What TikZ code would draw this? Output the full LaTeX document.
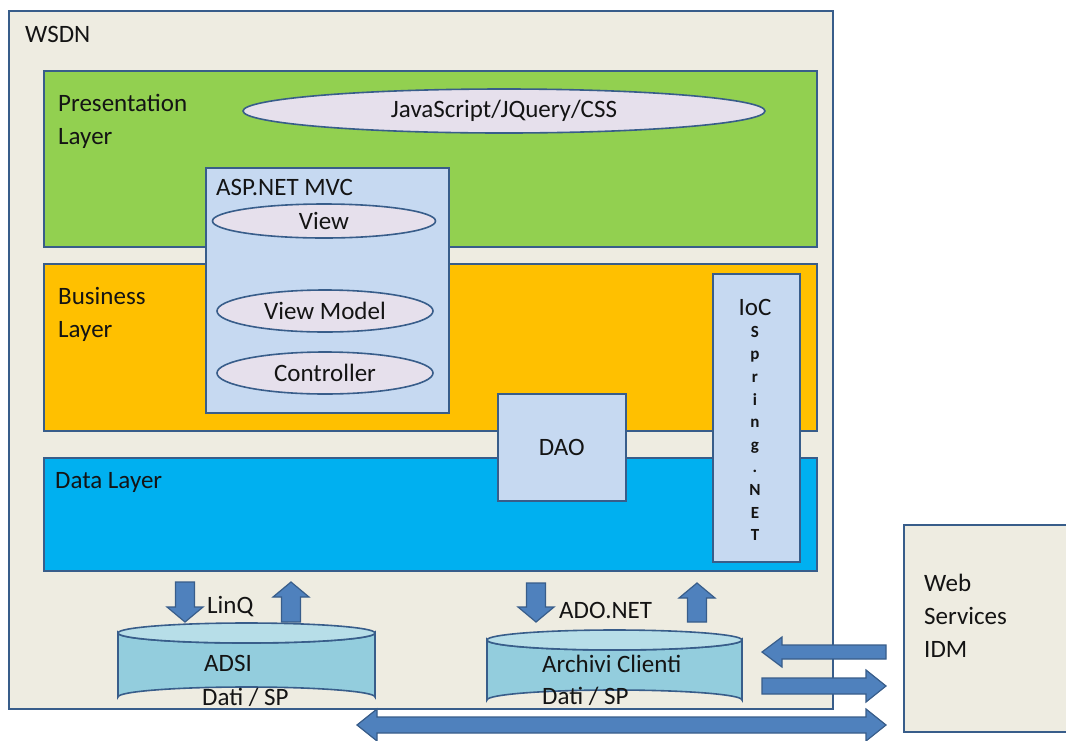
\documentclass[tikz,border=0pt]{standalone}
\usepackage{fontspec}
\setmainfont{Carlito}
\definecolor{outl}{HTML}{385D8A}
\definecolor{cream}{HTML}{EEECE1}
\definecolor{pgreen}{HTML}{92D050}
\definecolor{porange}{HTML}{FFC000}
\definecolor{pblue}{HTML}{00B0F0}
\definecolor{lblue}{HTML}{C6D9F1}
\definecolor{lav}{HTML}{E6E0EC}
\definecolor{cylbody}{HTML}{93CDDD}
\definecolor{cyltop}{HTML}{B7DEE8}
\definecolor{arrfill}{HTML}{4F81BD}
\definecolor{txt}{HTML}{141414}
\tikzset{
  box/.style={draw=outl, line width=1.6pt, anchor=north west, inner sep=0pt},
  ell/.style={draw=outl, line width=1.6pt, ellipse, fill=lav, inner sep=0pt, text=txt},
  lbl/.style={anchor=north west, inner sep=0pt, align=left, text=txt, font=\fontsize{25}{33}\selectfont},
  blk/.style={draw=outl, line width=1.2pt, fill=arrfill},
  txtb/.style={anchor=base west, inner sep=0pt, text=txt, font=\fontsize{25}{33}\selectfont},
}
\usetikzlibrary{shapes.geometric}
\newcommand\downarr[3]{\draw[blk] ({#1-9.5},#2) -- ({#1+9.5},#2) -- ({#1+9.5},{#3-15}) -- ({#1+18},{#3-15}) -- (#1,#3) -- ({#1-18},{#3-15}) -- ({#1-9.5},{#3-15}) -- cycle;}
\newcommand\uparr[3]{\draw[blk] ({#1-9.5},#2) -- ({#1+9.5},#2) -- ({#1+9.5},{#3+15}) -- ({#1+18},{#3+15}) -- (#1,#3) -- ({#1-18},{#3+15}) -- ({#1-9.5},{#3+15}) -- cycle;}
\begin{document}
\begin{tikzpicture}[x=1pt,y=-1pt]
\useasboundingbox (0,0) rectangle (1066,740);
\fill[white] (0,0) rectangle (1066,740);
% outer box
\node[box, fill=cream, minimum width=824, minimum height=698] (wsdn) at (8,10) {};
\node[lbl] (wsdnl) at (25,26) {WSDN};
% layers
\node[box, fill=pgreen, minimum width=773, minimum height=176] (pres) at (43,70) {};
\node[lbl] (presl) at (58,94) {Presentation\\Layer};
\node[box, fill=porange, minimum width=773, minimum height=167] (bus) at (43,263) {};
\node[lbl] (busl) at (58,287) {Business\\Layer};
\node[box, fill=pblue, minimum width=773, minimum height=113] (data) at (43,457) {};
\node[lbl] (datal) at (55,472) {Data Layer};
\node[ell, minimum width=522, minimum height=44, font=\fontsize{25}{30}\selectfont] (js) at (504,111) {JavaScript/JQuery/CSS};
% ASP.NET MVC
\node[box, fill=lblue, minimum width=243, minimum height=245] (asp) at (205,167) {};
\node[lbl] (aspl) at (216,179) {ASP.NET MVC};
\node[ell, minimum width=223, minimum height=34, font=\fontsize{25}{30}\selectfont] (view) at (324,221) {View};
\node[ell, minimum width=216, minimum height=42, font=\fontsize{25}{30}\selectfont] (vm) at (325,311) {View Model};
\node[ell, minimum width=216, minimum height=42, font=\fontsize{25}{30}\selectfont] (ctrl) at (325,373) {Controller};
% DAO
\node[box, fill=lblue, minimum width=128, minimum height=107] (dao) at (497,393) {};
\node[text=txt, font=\fontsize{25}{30}\selectfont] (daol) at (dao.center) {DAO};
% IoC
\node[box, fill=lblue, minimum width=87, minimum height=288] (ioc) at (712,273) {};
\node[anchor=base, inner sep=0pt, text=txt, font=\fontsize{25}{30}\selectfont] (iocl) at (755,315) {IoC};
\node[anchor=north, inner sep=0pt, align=center, text=txt, font=\fontsize{17}{22.6}\selectfont\bfseries] (spring) at (755,326) {S\\p\\r\\i\\n\\g\\.\\N\\E\\T};
% arrows LinQ
\downarr{185}{582}{622}
\uparr{291}{622}{582}
\node[txtb] (linq) at (207,613) {LinQ};
% arrows ADO.NET
\downarr{536}{583}{622}
\uparr{697}{622}{583}
\node[txtb] (ado) at (559,618) {ADO.NET};
% ADSI cylinder
\draw[draw=outl, line width=1.6pt, fill=cylbody] (118,633) -- (118,697) arc[start angle=180, end angle=360, x radius=128.5, y radius=10] -- (375,633) arc[start angle=0, end angle=180, x radius=128.5, y radius=10] -- cycle;
\draw[draw=outl, line width=1.6pt, fill=cyltop] (246.5,633) ellipse[x radius=128.5, y radius=10];
\node[txtb] (adsi) at (204,671) {ADSI};
\node[txtb] (adsi2) at (202,705) {Dati / SP};
% Archivi cylinder
\draw[draw=outl, line width=1.6pt, fill=cylbody] (487,640) -- (487,700) arc[start angle=180, end angle=360, x radius=127.5, y radius=10] -- (742,640) arc[start angle=0, end angle=180, x radius=127.5, y radius=10] -- cycle;
\draw[draw=outl, line width=1.6pt, fill=cyltop] (614.5,640) ellipse[x radius=127.5, y radius=10];
\node[txtb] (arc1) at (542,672) {Archivi Clienti};
\node[txtb] (arc2) at (542,704) {Dati / SP};
% outer box bottom line over cylinders
\draw[outl, line width=1.6pt] (wsdn.south west) -- (wsdn.south east);
% Web services box
\node[box, fill=cream, minimum width=200, minimum height=207] (web) at (903,524) {};
\node[lbl] (webl) at (924,574) {Web\\Services\\IDM};
% horizontal arrows
\draw[blk] (886,645) -- (782,645) -- (782,637) -- (762,652) -- (782,667) -- (782,659) -- (886,659) -- cycle;
\draw[blk] (762,678) -- (866,678) -- (866,670) -- (886,686) -- (866,702) -- (866,694) -- (762,694) -- cycle;
\draw[blk] (377,717) -- (866,717) -- (866,709) -- (886,725) -- (866,741) -- (866,733) -- (377,733) -- (377,741) -- (357,725) -- (377,709) -- cycle;
\end{tikzpicture}
\end{document}
